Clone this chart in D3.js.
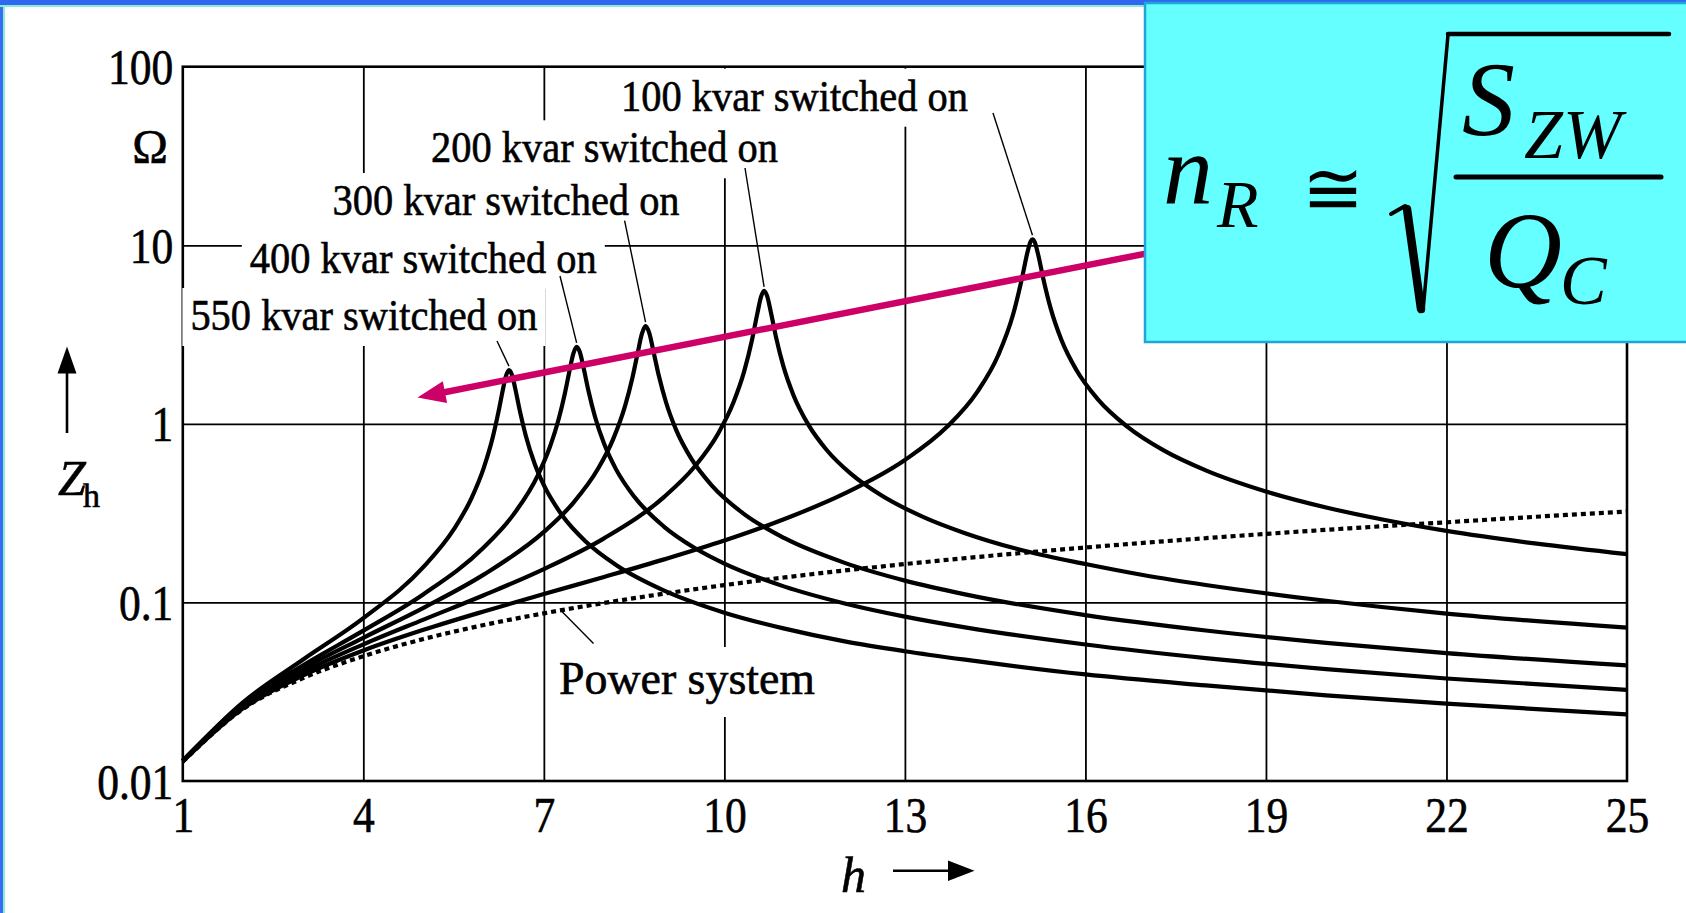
<!DOCTYPE html>
<html><head><meta charset="utf-8">
<script src="https://cdn.jsdelivr.net/npm/d3@7"></script>
<style>
html,body{margin:0;padding:0;background:#fff;overflow:hidden}
svg{display:block}
text{font-family:"Liberation Serif","Times New Roman",serif;fill:#000}
.ink{stroke:#000;stroke-width:0.6px}
</style></head><body>
<svg id="chart" width="1686" height="913"></svg>
<script>
// ---------------- data ----------------
const xTicks = [1, 4, 7, 10, 13, 16, 19, 22, 25];
const yTicks = [0.01, 0.1, 1, 10, 100];
const yTickLabels = ["0.01", "0.1", "1", "10", "100"];
const seriesNames = ["100 kvar switched on", "200 kvar switched on", "300 kvar switched on", "400 kvar switched on", "550 kvar switched on"];

const powerSystem = [[1,0.0128],[2,0.0253],[3,0.0377],[4,0.0500],[5,0.0624],[6,0.0747],[7,0.0869],[8,0.0993],[9,0.1120],[10,0.1250],[11,0.1380],[12,0.1510],[13,0.1640],[14,0.1770],[15,0.1900],[16,0.2030],[17,0.2160],[18,0.2290],[19,0.2420],[20,0.2550],[21,0.2680],[22,0.2810],[23,0.2950],[24,0.3090],[25,0.3230]];

const kvar100 = [[1,0.0129],[2,0.0255],[3,0.0390],[4,0.0538],[5,0.0702],[6,0.0890],[7,0.1114],[8,0.1389],[9,0.1742],[10,0.2221],[11,0.293],[12,0.4076],[13,0.6274],[13.7,0.9622],[14.2,1.505],[14.55,2.422],[14.8,4.121],[14.95,6.639],[15.04,9.23],[15.09,10.52],[15.12,10.8],[15.16,10.37],[15.21,9.005],[15.3,6.5],[15.42,4.458],[15.6,2.956],[15.85,2.001],[16.2,1.38],[16.7,0.9615],[17.3,0.710],[18,0.5488],[19,0.4179],[20,0.3401],[21,0.2885],[22,0.2515],[23.5,0.2133],[25,0.1863]];

const kvar200 = [[1,0.0129],[2,0.0259],[3,0.0407],[4,0.0582],[5,0.0801],[6,0.1097],[7,0.1537],[8,0.2285],[9,0.3903],[9.5,0.5731],[9.9,0.8865],[10.15,1.3165],[10.33,1.9725],[10.46,2.958],[10.55,4.181],[10.61,5.151],[10.66,5.56],[10.71,5.204],[10.77,4.259],[10.86,3.039],[10.98,2.103],[11.15,1.443],[11.4,0.9835],[11.7,0.714],[12.1,0.5263],[12.6,0.3993],[13.3,0.3014],[14,0.2442],[15,0.1939],[16,0.164],[17,0.1415],[18,0.1252],[20,0.1022],[22,0.0866],[25,0.0722]];

const kvar300 = [[1,0.0130],[2,0.0264],[3,0.0426],[4,0.0634],[5,0.0933],[6,0.1431],[7,0.2482],[7.5,0.3647],[7.9,0.5601],[8.15,0.819],[8.35,1.261],[8.47,1.802],[8.56,2.50],[8.63,3.198],[8.69,3.53],[8.75,3.243],[8.82,2.561],[8.91,1.864],[9.03,1.321],[9.2,0.922],[9.45,0.638],[9.8,0.448],[10.3,0.3175],[11,0.2289],[12,0.1665],[13,0.1325],[14,0.111],[16,0.0849],[18,0.0696],[20,0.0593],[22,0.0520],[25,0.0444]];

const kvar400 = [[1,0.0130],[2,0.0269],[3,0.0445],[4,0.0695],[5,0.1112],[6,0.2031],[6.5,0.3122],[6.9,0.5152],[7.1,0.7414],[7.25,1.075],[7.35,1.485],[7.43,2.009],[7.49,2.474],[7.545,2.70],[7.6,2.51],[7.66,2.06],[7.74,1.538],[7.85,1.096],[8.0,0.775],[8.2,0.556],[8.5,0.3915],[9,0.2652],[9.5,0.2025],[10,0.1651],[11,0.1226],[12,0.0987],[13,0.0833],[14,0.0725],[16,0.0581],[18,0.0488],[20,0.0423],[22,0.0375],[25,0.0324]];

const kvar550 = [[1,0.0130],[2,0.0276],[3,0.0479],[4,0.0816],[5,0.158],[5.5,0.2555],[5.8,0.385],[6.0,0.565],[6.15,0.838],[6.25,1.185],[6.32,1.558],[6.37,1.849],[6.42,2.00],[6.47,1.879],[6.52,1.601],[6.6,1.186],[6.7,0.858],[6.85,0.594],[7.0,0.4534],[7.3,0.3087],[7.7,0.2185],[8.2,0.162],[9,0.1164],[10,0.0876],[11,0.0713],[12,0.0605],[13,0.0533],[14,0.0478],[16,0.0395],[18,0.0343],[20,0.0302],[22,0.0271],[25,0.0236]];

const capacitorSeries = [kvar100, kvar200, kvar300, kvar400, kvar550];
const powerSystemLabel = "Power system";
const powerSystemAnchor = [7.28, 0.0905];
const trendArrow = [[17.3, 9.40], [4.90, 1.404]]; // magenta arrow, data coords

// ---------------- layout ----------------
const W = 1686, H = 913;
const svg = d3.select("#chart");
const x = d3.scaleLinear().domain([1, 25]).range([182.8, 1627]);
const y = d3.scaleLog().domain([0.01, 100]).range([781, 66.7]);
const plotW = x(25) - x(1), plotH = y(0.01) - y(100);
const SX = 0.87; // horizontal squeeze of the narrow serif numerals

svg.append("rect").attr("width", W).attr("height", H).attr("fill", "#fff");

// grid lines via axes
const gGridX = svg.append("g").attr("transform", `translate(0,${y(0.01)})`)
  .call(d3.axisBottom(x).tickValues(xTicks.slice(1, -1)).tickSize(-plotH).tickFormat(""));
gGridX.select(".domain").remove();
gGridX.selectAll("line").attr("stroke", "#000").attr("stroke-width", 1.8);

const gGridY = svg.append("g").attr("transform", `translate(${x(1)},0)`)
  .call(d3.axisLeft(y).tickValues([0.1, 1, 10]).tickSize(-plotW).tickFormat(""));
gGridY.select(".domain").remove();
gGridY.selectAll("line").attr("stroke", "#000").attr("stroke-width", 1.8);

// frame
svg.append("rect").attr("x", x(1)).attr("y", y(100)).attr("width", plotW).attr("height", plotH)
  .attr("fill", "none").attr("stroke", "#000").attr("stroke-width", 2.6);

// tick labels (x)
const gX = svg.append("g").attr("transform", `translate(0,${y(0.01)})`)
  .call(d3.axisBottom(x).tickValues(xTicks).tickSize(0).tickFormat(d3.format("d")));
gX.select(".domain").remove();
gX.attr("font-size", null).attr("font-family", null);
gX.selectAll("text").attr("y", 51).attr("dy", null).attr("class", "ink")
  .style("font-size", "50px").attr("transform", `scale(${SX},1)`);

// tick labels (y)
const gY = svg.append("g").attr("transform", `translate(${x(1)},0)`)
  .call(d3.axisLeft(y).tickValues(yTicks).tickSize(0).tickFormat((d, i) => yTickLabels[i]));
gY.select(".domain").remove();
gY.attr("font-size", null).attr("font-family", null);
gY.selectAll("text").attr("x", -9.5 / SX).attr("y", 17).attr("dy", null).attr("class", "ink")
  .style("font-size", "50px").attr("transform", `scale(${SX},1)`);

// unit Ω
svg.append("text").attr("class", "ink").attr("x", 150).attr("y", 163).attr("text-anchor", "middle")
  .style("font-size", "48px").text("Ω");

// Zh label and up arrow
svg.append("line").attr("x1", 67).attr("x2", 67).attr("y1", 433).attr("y2", 370)
  .attr("stroke", "#000").attr("stroke-width", 2.6);
svg.append("path").attr("d", "M67,346.5 L57.5,373.5 L76.5,373.5 Z").attr("fill", "#000");
svg.append("text").attr("class", "ink").attr("x", 58).attr("y", 495).style("font-size", "50px").style("font-style", "italic").text("Z");
svg.append("text").attr("class", "ink").attr("x", 83).attr("y", 506.5).style("font-size", "34px").text("h");

// h label and right arrow
svg.append("text").attr("class", "ink").attr("x", 841).attr("y", 891.5).style("font-size", "50px").style("font-style", "italic").text("h");
svg.append("line").attr("x1", 893).attr("x2", 952).attr("y1", 870.7).attr("y2", 870.7)
  .attr("stroke", "#000").attr("stroke-width", 2.6);
svg.append("path").attr("d", "M974.5,870.7 L948,860.5 L948,881 Z").attr("fill", "#000");

// series labels layout (pixel positions of label text and leader start)
const labelLayout = [
  { x: 621, y: 110.7, lx: 993, ly: 113 },
  { x: 431, y: 162.3, lx: 745, ly: 168 },
  { x: 332.6, y: 215, lx: 624.6, ly: 220.7 },
  { x: 249.8, y: 272.7, lx: 560, ly: 276 },
  { x: 190.4, y: 330, lx: 497, ly: 341 }
];
const LABEL_W = 347;

// white knock-outs behind labels
labelLayout.forEach(l => {
  svg.append("rect").attr("x", l.x - 8).attr("y", l.y - 42).attr("width", LABEL_W + 16).attr("height", 58).attr("fill", "#fff");
});
const psL = { x: 559, y: 694, w: 256 };
svg.append("rect").attr("x", psL.x - 8).attr("y", psL.y - 47).attr("width", psL.w + 16).attr("height", 70).attr("fill", "#fff");

// curves
const line = d3.line().x(d => x(d[0])).y(d => y(d[1])).curve(d3.curveMonotoneX);
svg.append("path").datum(powerSystem).attr("d", line).attr("fill", "none")
  .attr("stroke", "#000").attr("stroke-width", 4.2).attr("stroke-dasharray", "5,4");
capacitorSeries.forEach(s => {
  svg.append("path").datum(s).attr("d", line).attr("fill", "none")
    .attr("stroke", "#000").attr("stroke-width", 4.2).attr("stroke-linejoin", "round");
});

// labels + leaders
capacitorSeries.forEach((s, i) => {
  const l = labelLayout[i];
  const pk = d3.greatest(s, d => d[1]);
  svg.append("line").attr("x1", l.lx).attr("y1", l.ly).attr("x2", x(pk[0])).attr("y2", y(pk[1]) - 4)
    .attr("stroke", "#000").attr("stroke-width", 1.4);
  svg.append("text").attr("class", "ink").attr("x", l.x).attr("y", l.y).style("font-size", "44px")
    .attr("textLength", LABEL_W).attr("lengthAdjust", "spacingAndGlyphs").text(seriesNames[i]);
});
svg.append("line").attr("x1", x(powerSystemAnchor[0])).attr("y1", y(powerSystemAnchor[1]))
  .attr("x2", 593.5).attr("y2", 643.5).attr("stroke", "#000").attr("stroke-width", 1.4);
svg.append("text").attr("class", "ink").attr("x", psL.x).attr("y", psL.y).style("font-size", "46px")
  .attr("textLength", psL.w).attr("lengthAdjust", "spacingAndGlyphs").text(powerSystemLabel);

// magenta arrow
{
  const [a, b] = trendArrow;
  const x1 = x(a[0]), y1 = y(a[1]), x2 = x(b[0]), y2 = y(b[1]);
  const ang = Math.atan2(y2 - y1, x2 - x1);
  const L = 28, hw = 11;
  const bx = x2 - L * Math.cos(ang), by = y2 - L * Math.sin(ang);
  svg.append("line").attr("x1", x1).attr("y1", y1).attr("x2", bx + 3 * Math.cos(ang)).attr("y2", by + 3 * Math.sin(ang))
    .attr("stroke", "#cc0066").attr("stroke-width", 6.5);
  const px = -Math.sin(ang), py = Math.cos(ang);
  svg.append("path").attr("d", `M${x2},${y2} L${bx + hw * px},${by + hw * py} L${bx - hw * px},${by - hw * py} Z`)
    .attr("fill", "#cc0066");
}

// page border strips
svg.append("rect").attr("x", 0).attr("y", 0).attr("width", 3).attr("height", H).attr("fill", "#3a6cf4");
svg.append("rect").attr("x", 3).attr("y", 0).attr("width", 2).attr("height", H).attr("fill", "#86f0cc");
svg.append("rect").attr("x", 0).attr("y", 0).attr("width", W).attr("height", 5).attr("fill", "#2f66f2");
svg.append("rect").attr("x", 0).attr("y", 5).attr("width", W).attr("height", 2).attr("fill", "#86f0cc");

// formula box
svg.append("rect").attr("x", 1145).attr("y", 3).attr("width", 560).attr("height", 339)
  .attr("fill", "#66ffff").attr("stroke", "#1fa5d8").attr("stroke-width", 2.5);
const it = (t, xx, yy, fs) => svg.append("text").attr("x", xx).attr("y", yy)
  .style("font-size", fs + "px").style("font-style", "italic")
  .style("font-family", "'Liberation Serif','Times New Roman',serif").text(t);
it("n", 1163, 203, 100);
it("R", 1217, 226.5, 68);
svg.append("text").attr("x", 1302).attr("y", 214).style("font-size", "74px")
  .style("font-family", "'DejaVu Serif',serif").text("≅");
it("S", 1462, 135, 106);
it("ZW", 1524, 158, 70);
it("Q", 1484, 287, 108);
it("C", 1560, 304, 70);
// radical and fraction bar
const blk = (d, w) => svg.append("path").attr("d", d).attr("fill", "none").attr("stroke", "#000")
  .attr("stroke-width", w).attr("stroke-linecap", "round").attr("stroke-linejoin", "round");
blk("M1391,214 L1405,206", 4);
blk("M1407,209 L1421,309", 8.5);
blk("M1423,311 L1448,35", 3.5);
blk("M1448,34 L1669,34", 4.5);
blk("M1456,177 L1661,177", 5);
</script>
</body></html>
